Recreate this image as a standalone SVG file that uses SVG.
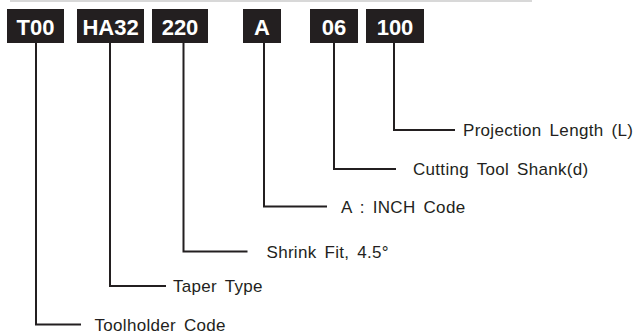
<svg xmlns="http://www.w3.org/2000/svg" width="642" height="335" viewBox="0 0 642 335">
<style>
.box{fill:#231f20}
.code{font-family:"Liberation Sans",Arial,sans-serif;font-weight:bold;font-size:22px;fill:#fff;text-anchor:middle}
.lbl{font-family:"Liberation Sans",Arial,sans-serif;font-size:17px;fill:#231f20;letter-spacing:0.3px;word-spacing:3px}
.con{fill:none;stroke:#231f20;stroke-width:2}
</style>
<rect x="0" y="0" width="642" height="335" fill="#fff"/>
<line x1="10" y1="1" x2="532" y2="1" stroke="#d8d8d8" stroke-width="2"/>
<g id="n-T00"><rect class="box" x="7" y="9" width="57" height="34"/><text class="code" x="35.5" y="35">T00</text></g>
<g id="n-HA32"><rect class="box" x="77" y="9" width="67" height="34"/><text class="code" x="110.5" y="35">HA32</text></g>
<g id="n-220"><rect class="box" x="152" y="9" width="56" height="34"/><text class="code" x="180" y="35">220</text></g>
<g id="n-A"><rect class="box" x="243" y="9" width="38" height="34"/><text class="code" x="262" y="35">A</text></g>
<g id="n-06"><rect class="box" x="310" y="9" width="48" height="34"/><text class="code" x="334" y="35">06</text></g>
<g id="n-100"><rect class="box" x="366" y="9" width="58" height="34"/><text class="code" x="395" y="35">100</text></g>
<g id="connectors">
<polyline class="con" points="36,43 36,324.5 81,324.5"/>
<polyline class="con" points="110,43 110,286 166,286"/>
<polyline class="con" points="183.5,43 183.5,251.5 247.5,251.5"/>
<polyline class="con" points="264,43 264,206.5 327,206.5"/>
<polyline class="con" points="334,43 334,169 396,169"/>
<polyline class="con" points="394,43 394,130 455,130"/>
</g>
<g id="l-100"><text class="lbl" x="463" y="136">Projection Length (L)</text></g>
<g id="l-06"><text class="lbl" x="413" y="175">Cutting Tool Shank(d)</text></g>
<g id="l-A"><text class="lbl" x="341" y="212.5">A : INCH Code</text></g>
<g id="l-220"><text class="lbl" x="266.5" y="257.5">Shrink Fit, 4.5°</text></g>
<g id="l-HA32"><text class="lbl" x="173" y="292">Taper Type</text></g>
<g id="l-T00"><text class="lbl" x="94.5" y="330.5">Toolholder Code</text></g>
</svg>
